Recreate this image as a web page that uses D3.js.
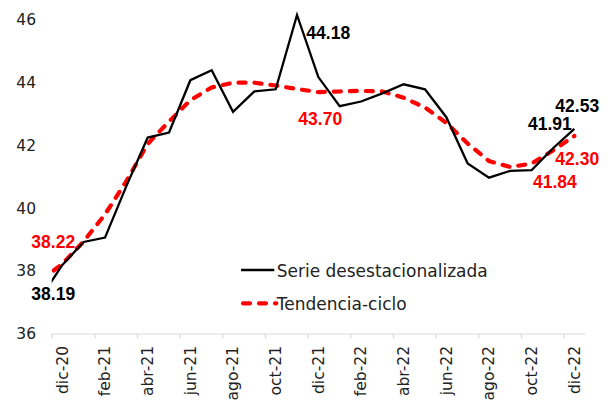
<!DOCTYPE html>
<html>
<head>
<meta charset="utf-8">
<script src="https://cdn.jsdelivr.net/npm/d3@7"></script>
<style>
  html, body { margin: 0; padding: 0; background: #fff; }
  svg { display: block; }
</style>
</head>
<body>
<div id="chart"></div>
<script>
// Months shown on the category axis
const months = ['dic-20', 'ene-21', 'feb-21', 'mar-21', 'abr-21', 'may-21', 'jun-21', 'jul-21',
  'ago-21', 'sep-21', 'oct-21', 'nov-21', 'dic-21', 'ene-22', 'feb-22', 'mar-22', 'abr-22',
  'may-22', 'jun-22', 'jul-22', 'ago-22', 'sep-22', 'oct-22', 'nov-22', 'dic-22'];

// Serie desestacionalizada
const serie = [38.19, 38.92, 39.06, 40.70, 42.25, 42.41, 44.08, 44.40, 43.07, 43.72, 43.79, 46.16,
  44.18, 43.25, 43.40, 43.66, 43.95, 43.79, 42.90, 41.42, 40.97, 41.19, 41.21, 41.91, 42.53];

// Tendencia-ciclo
const tendencia = [38.22, 38.94, 39.80, 40.86, 42.05, 42.76, 43.44, 43.85, 44.00, 44.00, 43.91, 43.80,
  43.70, 43.72, 43.74, 43.72, 43.52, 43.21, 42.72, 42.06, 41.50, 41.31, 41.42, 41.84, 42.30];

// nov-20 values: the lines start there but get cut by the plot area
const prevSerie = 37.16;
const prevTendencia = 37.70;

const yTicks = [36, 38, 40, 42, 44, 46];
const seriesNames = ['Serie desestacionalizada', 'Tendencia-ciclo'];

// Labelled points: [series, month index]
const labelled = [
  ['serie', 0], ['tendencia', 0], ['serie', 12], ['tendencia', 12],
  ['serie', 23], ['tendencia', 23], ['serie', 24], ['tendencia', 24]
];

// Label offsets from their point (left edge, baseline)
const labelOffsets = {
  'serie-0': [-31, 35], 'tendencia-0': [-31, -16],
  'serie-12': [-12, -38], 'tendencia-12': [-20, 33],
  'serie-23': [-25, -18], 'tendencia-23': [-20, 38],
  'serie-24': [-19, -17], 'tendencia-24': [-19, 29]
};

const width = 613;
const height = 402;
const plot = {left: 51.7, right: 585, top: 0, bottom: 334};

const svg = d3.select('#chart')
  .append('svg')
  .attr('width', width)
  .attr('height', height);

// Category index -> x (categories sit between tick marks)
const x = d3.scaleLinear()
  .domain([-0.5, months.length - 0.5])
  .range([plot.left, plot.right]);

const y = d3.scaleLinear()
  .domain([36, 46])
  .range([333.5, 20]);

// Clip the lines to the plot area
svg.append('clipPath')
  .attr('id', 'plot-clip')
  .append('rect')
  .attr('x', plot.left)
  .attr('y', plot.top)
  .attr('width', plot.right - plot.left)
  .attr('height', plot.bottom - plot.top);

// Y axis: labels only
const gY = svg.append('g')
  .attr('transform', 'translate(36,0)')
  .call(d3.axisLeft(y).tickValues(yTicks).tickSize(0).tickPadding(0));
gY.select('.domain').remove();
gY.selectAll('text')
  .attr('fill', '#222')
  .style('font-family', 'DejaVu Sans, sans-serif')
  .style('font-size', '15.5px');

// X axis: light line with a tick every two months
const gX = svg.append('g')
  .attr('transform', 'translate(0,' + y(36) + ')')
  .call(d3.axisBottom(x)
    .tickValues(d3.range(-0.5, months.length, 2))
    .tickSize(5)
    .tickSizeOuter(0)
    .tickFormat(''));
gX.select('.domain').attr('stroke', '#d9d9d9').attr('stroke-width', 1.2);
gX.selectAll('.tick line').attr('stroke', '#d9d9d9').attr('stroke-width', 1.2);

svg.append('g')
  .selectAll('text')
  .data(months.filter((m, i) => i % 2 === 0))
  .enter()
  .append('text')
  .attr('transform', d => 'translate(' + x(months.indexOf(d)) + ',' + 346 + ') rotate(-90)')
  .attr('text-anchor', 'end')
  .attr('dy', '0.35em')
  .attr('fill', '#222')
  .style('font-family', 'DejaVu Sans, sans-serif')
  .style('font-size', '15.5px')
  .text(d => d);

// Lines
const line = d3.line()
  .x(d => x(d[0]))
  .y(d => y(d[1]));

const serieData = [[-1, prevSerie]].concat(serie.map((v, i) => [i, v]));
const tendenciaData = [[-1, prevTendencia]].concat(tendencia.map((v, i) => [i, v]));

const lines = svg.append('g').attr('clip-path', 'url(#plot-clip)');

lines.append('path')
  .datum(tendenciaData)
  .attr('fill', 'none')
  .attr('stroke', '#ff0000')
  .attr('stroke-width', 4.2)
  .attr('stroke-dasharray', '7,9')
  .attr('stroke-linecap', 'round')
  .attr('d', line);

lines.append('path')
  .datum(serieData)
  .attr('fill', 'none')
  .attr('stroke', '#000')
  .attr('stroke-width', 2.3)
  .attr('stroke-linejoin', 'miter')
  .attr('d', line);

// Data labels
const values = {serie: serie, tendencia: tendencia};
svg.append('g')
  .selectAll('text')
  .data(labelled)
  .enter()
  .append('text')
  .attr('x', d => x(d[1]) + labelOffsets[d[0] + '-' + d[1]][0])
  .attr('y', d => y(values[d[0]][d[1]]) + labelOffsets[d[0] + '-' + d[1]][1])
  .attr('fill', d => d[0] === 'serie' ? '#000' : '#ff0000')
  .style('font-family', 'Liberation Sans, Arial, sans-serif')
  .style('font-weight', 'bold')
  .style('font-size', '17.5px')
  .text(d => values[d[0]][d[1]].toFixed(2));

// Legend
const legend = svg.append('g').attr('transform', 'translate(241,270)');
const legendItems = legend.selectAll('g')
  .data(seriesNames)
  .enter()
  .append('g')
  .attr('transform', (d, i) => 'translate(0,' + i * 33.3 + ')');

legendItems.append('line')
  .attr('x1', 0)
  .attr('x2', 33.3)
  .attr('stroke', (d, i) => i === 0 ? '#000' : '#ff0000')
  .attr('stroke-width', (d, i) => i === 0 ? 2.3 : 4.2)
  .attr('stroke-dasharray', (d, i) => i === 0 ? null : '7,9')
  .attr('stroke-linecap', (d, i) => i === 0 ? 'butt' : 'round')
  .attr('transform', (d, i) => i === 0 ? null : 'translate(2,0)');

legendItems.append('text')
  .attr('x', 35.7)
  .attr('y', 7)
  .attr('fill', '#222')
  .style('font-family', 'DejaVu Sans, sans-serif')
  .style('font-size', '17px')
  .text(d => d);
</script>
</body>
</html>
